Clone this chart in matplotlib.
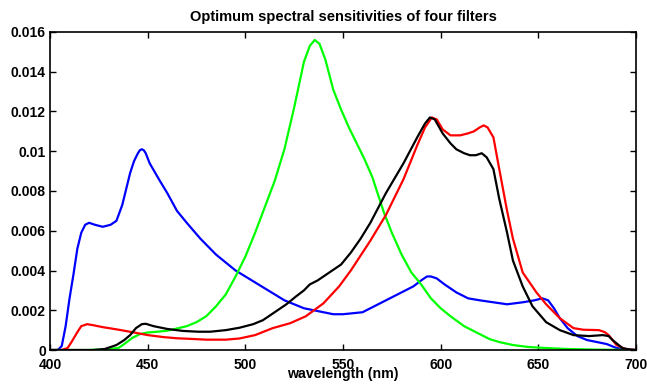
import matplotlib
matplotlib.use("Agg")
import matplotlib.pyplot as plt
from matplotlib.ticker import FuncFormatter

plt.rcParams['font.family'] = ['Liberation Sans', 'DejaVu Sans']
plt.rcParams['font.weight'] = 'bold'

# curves (wavelength in nm, sensitivity)
blue_wl = [400, 404, 406, 408, 410, 412, 414, 416, 418, 420, 423, 427, 431, 434, 437, 439,
           441, 443, 445, 446, 447, 448, 449, 451, 456, 460, 465, 470, 477, 485, 495, 500,
           505, 510, 520, 530, 540, 545, 550, 560, 570, 580, 586, 590, 593, 595, 598, 602,
           608, 614, 620, 627, 634, 642, 648, 652, 655, 658, 661, 665, 670, 675, 680, 685,
           690, 695, 700]
blue_val = [0, 0, 0.0002, 0.0012, 0.0026, 0.0038, 0.0051, 0.0059, 0.0063, 0.0064, 0.0063,
            0.0062, 0.0063, 0.0065, 0.0073, 0.0081, 0.0089, 0.0095, 0.0099, 0.01005, 0.0101,
            0.01005, 0.0099, 0.0094, 0.00855, 0.0079, 0.0070, 0.0064, 0.0056, 0.0048, 0.0040,
            0.0037, 0.0034, 0.0031, 0.0025, 0.0021, 0.0019, 0.0018, 0.0018, 0.0019, 0.0024,
            0.0029, 0.0032, 0.0035, 0.0037, 0.0037, 0.0036, 0.0033, 0.0029, 0.0026, 0.0025,
            0.0024, 0.0023, 0.0024, 0.0025, 0.0026, 0.0025, 0.0021, 0.0016, 0.0011, 0.0007,
            0.0005, 0.0004, 0.0003, 0.0001, 0.00003, 0]

green_wl = [400, 420, 430, 435, 438, 442, 446, 450, 455, 460, 465, 470, 475, 480, 485, 490,
            495, 500, 505, 510, 515, 520, 525, 530, 533, 535.5, 538, 541, 545, 549, 553, 557,
            561, 565, 568, 571, 575, 580, 585, 590, 595, 600, 605, 612, 620, 625, 630, 637,
            645, 654, 665, 680, 700]
green_val = [0, 0, 0.00005, 0.0001, 0.0003, 0.0006, 0.0008, 0.00088, 0.00092, 0.00097,
             0.00108, 0.0012, 0.0014, 0.0017, 0.0022, 0.0028, 0.0037, 0.0047, 0.0059, 0.0072,
             0.0085, 0.0101, 0.0122, 0.0145, 0.0153, 0.0156, 0.0154, 0.0146, 0.0131, 0.0121,
             0.0112, 0.0104, 0.0096, 0.0087, 0.0078, 0.0069, 0.0059, 0.0048, 0.0039, 0.0033,
             0.0026, 0.0021, 0.0017, 0.0012, 0.0008, 0.00055, 0.0004, 0.00025, 0.00015, 0.0001,
             0.00005, 0.00002, 0]

red_wl = [400, 406, 409, 411, 414, 416, 419, 422, 427, 434, 442, 450, 458, 465, 472, 480,
          490, 497, 505, 514, 523, 531, 540, 548, 554, 560, 564, 572, 581, 588, 592, 595.5,
          598, 601, 605, 610, 614, 617, 620, 622, 624, 627, 630, 634, 637, 642, 649, 654,
          661, 668, 673, 681, 684, 686, 690, 695, 700]
red_val = [0, 0, 0.0001, 0.0004, 0.0009, 0.0012, 0.0013, 0.00125, 0.00115, 0.00104, 0.0009,
           0.00075, 0.00065, 0.00059, 0.00056, 0.00052, 0.00052, 0.00058, 0.00075, 0.0011,
           0.00135, 0.0017, 0.00235, 0.0032, 0.0040, 0.0049, 0.0055, 0.0068, 0.0086, 0.0103,
           0.0112, 0.0117, 0.0116, 0.0111, 0.0108, 0.0108, 0.0109, 0.0110, 0.0112, 0.0113,
           0.0112, 0.0107, 0.0091, 0.0070, 0.0056, 0.0039, 0.0029, 0.0023, 0.0016, 0.0011,
           0.00102, 0.0010, 0.0009, 0.00075, 0.00025, 0.00003, 0]

black_wl = [400, 422, 428, 434, 438, 441, 444, 447, 449, 453, 460, 468, 476, 482, 490, 497,
            504, 509, 515, 521, 526, 530, 533, 537, 543, 549, 554, 559, 564, 572, 581, 588,
            592, 594.5, 597, 601, 605, 608, 612, 615, 618, 621, 623.5, 627, 630, 634, 637,
            642, 647, 654, 661, 668, 676, 683, 686, 688, 693, 697, 700]
black_val = [0, 0, 0.00005, 0.00025, 0.0005, 0.00075, 0.0011, 0.0013, 0.00132, 0.0012,
             0.00106, 0.00096, 0.00092, 0.00092, 0.0010, 0.00112, 0.0013, 0.0015, 0.0019,
             0.0023, 0.0027, 0.0030, 0.0033, 0.0035, 0.0039, 0.0043, 0.0049, 0.0056, 0.0064,
             0.0079, 0.0094, 0.0107, 0.0114, 0.0117, 0.0116, 0.0109, 0.0104, 0.0101, 0.0099,
             0.0098, 0.0098, 0.0099, 0.0097, 0.0091, 0.0076, 0.0059, 0.0045, 0.0032, 0.0022,
             0.0014, 0.0010, 0.00075, 0.0007, 0.00075, 0.0007, 0.0005, 0.0001, 0.00002, 0]

x_ticks = [400, 450, 500, 550, 600, 650, 700]
y_ticks = [0, 0.002, 0.004, 0.006, 0.008, 0.01, 0.012, 0.014, 0.016]

fig = plt.figure(figsize=(6.47, 3.85), dpi=100)
ax = fig.add_axes([0.0773, 0.0909, 0.9057, 0.826])

line_kw = dict(lw=1.6, solid_joinstyle='round', solid_capstyle='round')
ax.plot(blue_wl, blue_val, color=(0, 0, 1), **line_kw)
ax.plot(green_wl, green_val, color=(0, 1, 0), **line_kw)
ax.plot(red_wl, red_val, color=(1, 0, 0), **line_kw)
ax.plot(black_wl, black_val, color='black', **line_kw)

ax.set_xlim(400, 700)
ax.set_ylim(0, 0.016)
ax.set_xticks(x_ticks)
ax.set_yticks(y_ticks)
ax.yaxis.set_major_formatter(FuncFormatter(lambda v, p: '%g' % v))
ax.tick_params(direction='in', length=4, width=1, top=True, right=True,
               labelsize=10)
ax.tick_params(axis='x', pad=6)
ax.tick_params(axis='y', pad=3)
for s in ax.spines.values():
    s.set_linewidth(1.2)

ax.set_xlabel('wavelength (nm)', fontsize=10.2, fontweight='bold')
ax.xaxis.set_label_coords(0.5, -0.054)
ax.set_title('Optimum spectral sensitivities of four filters', fontsize=10.5,
             fontweight='bold', pad=8)

fig.savefig('out.png', dpi=100)
